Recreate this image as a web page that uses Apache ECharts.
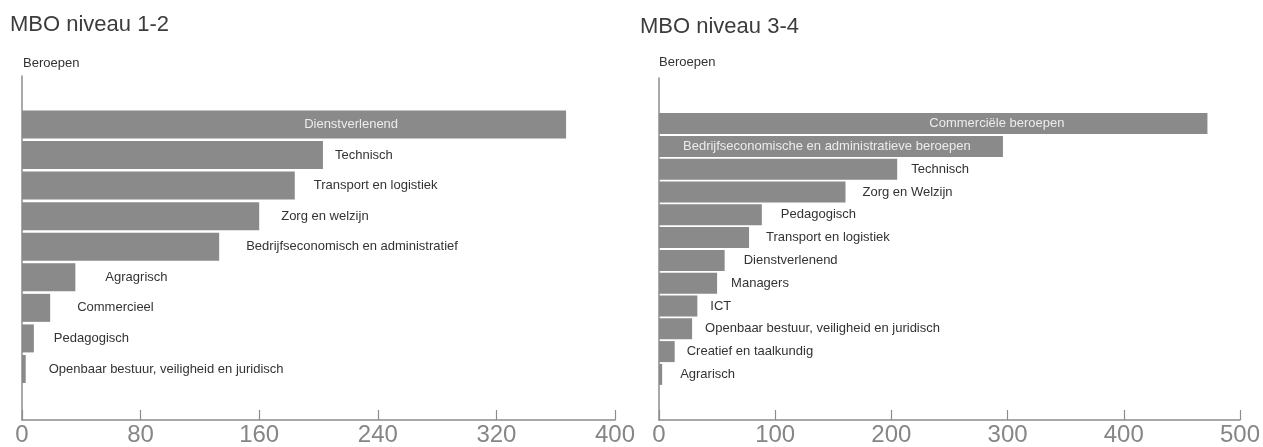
<!DOCTYPE html>
<html>
<head>
<meta charset="utf-8">
<script src="https://cdn.jsdelivr.net/npm/echarts@6/dist/echarts.min.js"></script>
<style>
html,body{margin:0;padding:0;background:#fff;}
#c{width:1263px;height:447px;}
</style>
</head>
<body>
<div id="c"></div>
<script>
const leftTitle = 'MBO niveau 1-2';
const rightTitle = 'MBO niveau 3-4';
const axisTitle = 'Beroepen';

const leftCategories = ['Dienstverlenend', 'Technisch', 'Transport en logistiek', 'Zorg en welzijn',
  'Bedrijfseconomisch en administratief', 'Agragrisch', 'Commercieel', 'Pedagogisch',
  'Openbaar bestuur, veiligheid en juridisch'];
const leftValues = [367, 203, 184, 160, 133, 36, 19, 8, 2.5];
const leftTicks = [0, 80, 160, 240, 320, 400];

const rightCategories = ['Commerciële beroepen', 'Bedrijfseconomische en administratieve beroepen', 'Technisch',
  'Zorg en Welzijn', 'Pedagogisch', 'Transport en logistiek', 'Dienstverlenend', 'Managers', 'ICT',
  'Openbaar bestuur, veiligheid en juridisch', 'Creatief en taalkundig', 'Agrarisch'];
const rightValues = [472, 296, 205, 160.5, 88.5, 77.5, 56.5, 50, 33, 28.5, 13.5, 2.7];
const rightTicks = [0, 100, 200, 300, 400, 500];

// label placement (style): gap between bar end and outside label, or inside placement
const leftLabelGap = [null, 12, 19, 22, 27, 30, 27, 20, 23];
const rightLabelGap = [null, null, 14, 17, 19, 17, 19, 14, 13, 13, 12, 18];

const BAR = '#8a8a8a';
const AXIS = '#8c8c8c';
const FONT = '"Liberation Sans", Arial, sans-serif';

function buildData(values, insideCfg, gaps) {
  return values.map((v, i) => {
    const cfg = insideCfg[i];
    if (cfg) {
      return { value: v, label: { position: cfg.pos, distance: cfg.dist, color: '#ececec' } };
    }
    return { value: v, label: { position: 'right', distance: gaps[i], color: '#333' } };
  });
}

const chart = echarts.init(document.getElementById('c'), null, { renderer: 'canvas' });

function xAxisCfg(idx, ticks, visible) {
  return {
    type: 'value', gridIndex: idx, show: visible,
    min: ticks[0], max: ticks[ticks.length - 1], interval: ticks[1] - ticks[0],
    axisLine: { show: true, lineStyle: { color: AXIS, width: 1.5 } },
    axisTick: { show: true, inside: true, length: 10, lineStyle: { color: AXIS, width: 1.2 } },
    axisLabel: { color: '#868686', fontSize: 24, fontFamily: FONT, margin: 3 },
    splitLine: { show: false }
  };
}
function yAxisCfg(idx, cats, mn, mx, bGap, lineShow) {
  return {
    type: 'category', gridIndex: idx, data: cats, inverse: true, boundaryGap: bGap,
    min: mn, max: mx,
    axisLine: { show: lineShow, lineStyle: { color: AXIS, width: 1.5 } },
    axisTick: { show: false }, axisLabel: { show: false }, splitLine: { show: false }
  };
}

const labelBase = { show: true, formatter: '{b}', fontSize: 13, fontFamily: FONT };
const titleStyle = { fontSize: 22, fontWeight: 'normal', color: '#3c3c3c', fontFamily: FONT };
const subStyle = { fontSize: 13, fontWeight: 'normal', color: '#333', fontFamily: FONT };

// left chart: frame grid (axes) + bar grid sharing the same horizontal scale
const leftPitch = 30.56;
const leftFirstCenter = 124.5;

chart.setOption({
  backgroundColor: '#fff',
  animation: false,
  title: [
    { text: leftTitle, left: 10, top: 14, padding: 0, textStyle: titleStyle },
    { text: rightTitle, left: 640, top: 16, padding: 0, textStyle: titleStyle },
    { text: axisTitle, left: 23, top: 57, padding: 0, textStyle: subStyle },
    { text: axisTitle, left: 659, top: 56, padding: 0, textStyle: subStyle }
  ],
  grid: [
    { left: 22, right: 648, top: 76, bottom: 26.5 },
    { left: 22, right: 648, top: leftFirstCenter - 1.5 * leftPitch, height: 11 * leftPitch },
    { left: 659, right: 17, top: 78, bottom: 26.5 }
  ],
  xAxis: [xAxisCfg(0, leftTicks, true), xAxisCfg(1, leftTicks, false), xAxisCfg(2, rightTicks, true)],
  yAxis: [
    yAxisCfg(0, [''], 0, 0, true, true),
    yAxisCfg(1, leftCategories, -1, 9, true, false),
    yAxisCfg(2, rightCategories, -2, 13, false, true)
  ],
  series: [
    {
      type: 'bar', xAxisIndex: 1, yAxisIndex: 1, barWidth: 28,
      itemStyle: { color: BAR },
      label: labelBase,
      data: buildData(leftValues, { 0: { pos: 'insideRight', dist: 168 } }, leftLabelGap)
    },
    {
      type: 'bar', xAxisIndex: 2, yAxisIndex: 2, barWidth: 21,
      itemStyle: { color: BAR },
      label: labelBase,
      data: buildData(rightValues, { 0: { pos: 'insideRight', dist: 143 }, 1: { pos: 'insideLeft', dist: 24 } }, rightLabelGap)
    }
  ]
});
</script>
</body>
</html>
